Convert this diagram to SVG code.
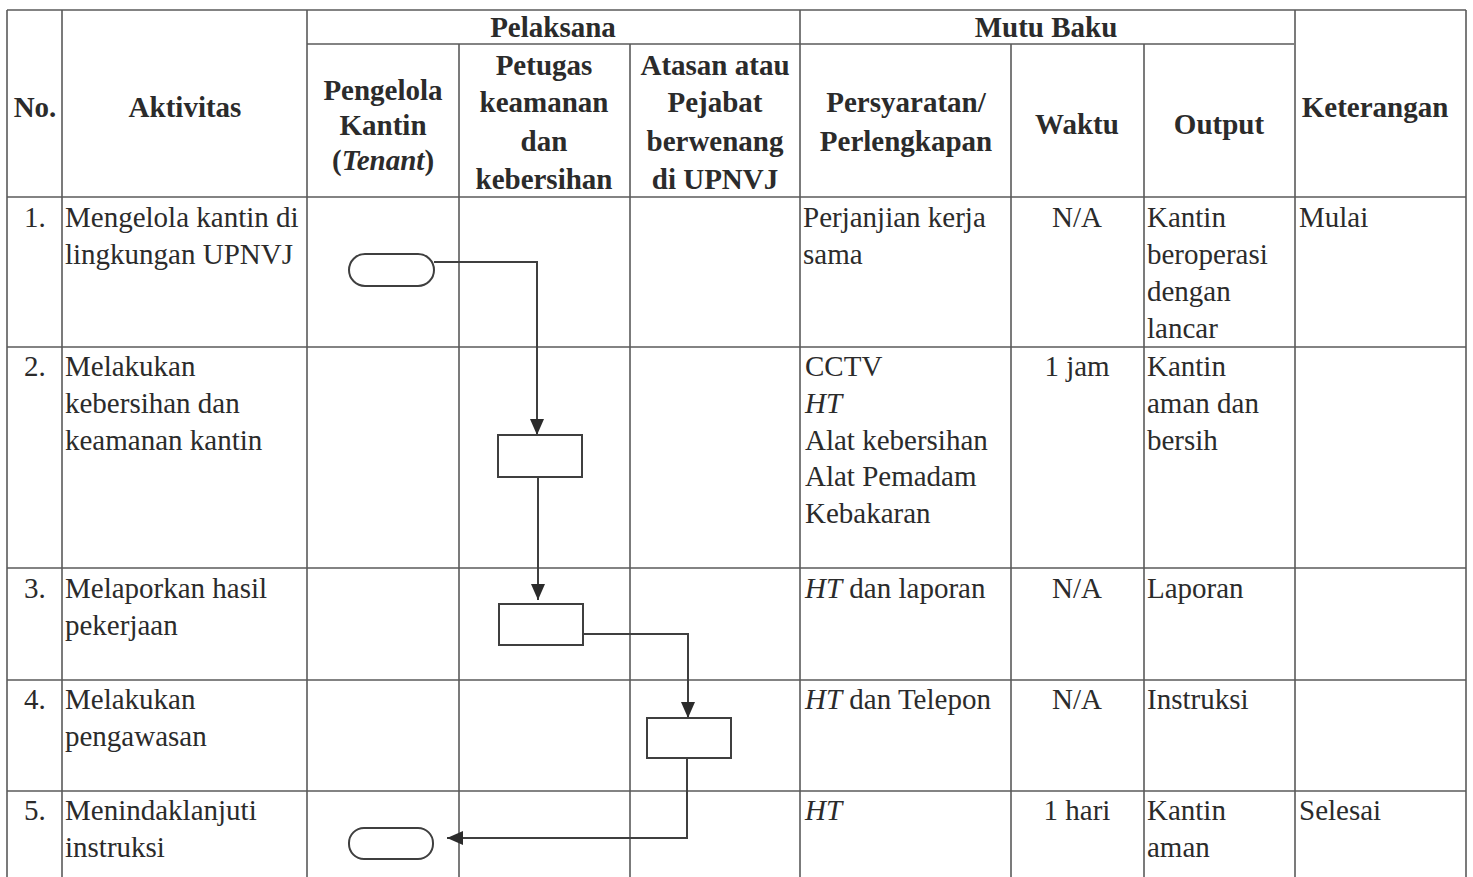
<svg xmlns="http://www.w3.org/2000/svg" width="1473" height="877" viewBox="0 0 1473 877">
<style>
.grid line{stroke:#5a5a5a;stroke-width:1.6}
text{font-family:"Liberation Serif","Times New Roman",serif;fill:#2b2b2b;font-size:29px}
.h{font-weight:bold;text-anchor:middle}
.c{text-anchor:middle}
.i{font-style:italic}
.node{fill:#fff;stroke:#3f3f3f;stroke-width:2}
.conn{fill:none;stroke:#3f3f3f;stroke-width:2}
</style>
<defs>
<marker id="arr" viewBox="0 0 16 14" refX="16" refY="7" markerWidth="16" markerHeight="14" markerUnits="userSpaceOnUse" orient="auto">
<path d="M0,0 L16,7 L0,14 Z" fill="#2b2b2b"/>
</marker>
</defs>
<rect width="1473" height="877" fill="#fff"/>
<g class="grid">
<line x1="7" y1="10" x2="1466" y2="10"/>
<line x1="307" y1="44" x2="1294" y2="44"/>
<line x1="7" y1="197" x2="1466" y2="197"/>
<line x1="7" y1="347" x2="1466" y2="347"/>
<line x1="7" y1="568" x2="1466" y2="568"/>
<line x1="7" y1="680" x2="1466" y2="680"/>
<line x1="7" y1="791" x2="1466" y2="791"/>
<line x1="7" y1="10" x2="7" y2="877"/>
<line x1="62" y1="10" x2="62" y2="877"/>
<line x1="307" y1="10" x2="307" y2="877"/>
<line x1="459" y1="44" x2="459" y2="877"/>
<line x1="630" y1="44" x2="630" y2="877"/>
<line x1="800" y1="10" x2="800" y2="877"/>
<line x1="1011" y1="44" x2="1011" y2="877"/>
<line x1="1144" y1="44" x2="1144" y2="877"/>
<line x1="1295" y1="10" x2="1295" y2="877"/>
<line x1="1466" y1="10" x2="1466" y2="877"/>
</g>
<g id="header">
<text class="h" x="553" y="37">Pelaksana</text>
<text class="h" x="1046" y="37">Mutu Baku</text>
<text class="h" x="35" y="117">No.</text>
<text class="h" x="185" y="117">Aktivitas</text>
<text class="h" x="383" y="100">Pengelola</text>
<text class="h" x="383" y="135">Kantin</text>
<text class="h" x="383" y="170">(<tspan class="i">Tenant</tspan>)</text>
<text class="h" x="544" y="75">Petugas</text>
<text class="h" x="544" y="112">keamanan</text>
<text class="h" x="544" y="151">dan</text>
<text class="h" x="544" y="189">kebersihan</text>
<text class="h" x="715" y="75">Atasan atau</text>
<text class="h" x="715" y="112">Pejabat</text>
<text class="h" x="715" y="151">berwenang</text>
<text class="h" x="715" y="189">di UPNVJ</text>
<text class="h" x="906" y="112">Persyaratan/</text>
<text class="h" x="906" y="151">Perlengkapan</text>
<text class="h" x="1077" y="134">Waktu</text>
<text class="h" x="1219" y="134">Output</text>
<text class="h" x="1375" y="117">Keterangan</text>
</g>
<g id="row1">
<text x="24" y="227">1.</text>
<text x="65" y="227">Mengelola kantin di</text>
<text x="65" y="264">lingkungan UPNVJ</text>
<text x="803" y="227">Perjanjian kerja</text>
<text x="803" y="264">sama</text>
<text class="c" x="1077" y="227">N/A</text>
<text x="1147" y="227">Kantin</text>
<text x="1147" y="264">beroperasi</text>
<text x="1147" y="301">dengan</text>
<text x="1147" y="338">lancar</text>
<text x="1299" y="227">Mulai</text>
</g>
<g id="row2">
<text x="24" y="376">2.</text>
<text x="65" y="376">Melakukan</text>
<text x="65" y="413">kebersihan dan</text>
<text x="65" y="450">keamanan kantin</text>
<text x="805" y="376">CCTV</text>
<text class="i" x="805" y="413">HT</text>
<text x="805" y="450">Alat kebersihan</text>
<text x="805" y="486">Alat Pemadam</text>
<text x="805" y="523">Kebakaran</text>
<text class="c" x="1077" y="376">1 jam</text>
<text x="1147" y="376">Kantin</text>
<text x="1147" y="413">aman dan</text>
<text x="1147" y="450">bersih</text>
</g>
<g id="row3">
<text x="24" y="598">3.</text>
<text x="65" y="598">Melaporkan hasil</text>
<text x="65" y="635">pekerjaan</text>
<text x="805" y="598"><tspan class="i">HT</tspan> dan laporan</text>
<text class="c" x="1077" y="598">N/A</text>
<text x="1147" y="598">Laporan</text>
</g>
<g id="row4">
<text x="24" y="709">4.</text>
<text x="65" y="709">Melakukan</text>
<text x="65" y="746">pengawasan</text>
<text x="805" y="709"><tspan class="i">HT</tspan> dan Telepon</text>
<text class="c" x="1077" y="709">N/A</text>
<text x="1147" y="709">Instruksi</text>
</g>
<g id="row5">
<text x="24" y="820" fill="#777">5.</text>
<text x="65" y="820">Menindaklanjuti</text>
<text x="65" y="857">instruksi</text>
<text class="i" x="805" y="820">HT</text>
<text class="c" x="1077" y="820">1 hari</text>
<text x="1147" y="820">Kantin</text>
<text x="1147" y="857">aman</text>
<text x="1299" y="820">Selesai</text>
</g>
<g id="connectors">
<path class="conn" d="M434,262 H537 V435" marker-end="url(#arr)"/>
<path class="conn" d="M538,477 V600" marker-end="url(#arr)"/>
<path class="conn" d="M583,634 H688 V718" marker-end="url(#arr)"/>
<path class="conn" d="M687,758 V838 H447" marker-end="url(#arr)"/>
</g>
<g id="node-start"><rect class="node" x="349" y="254" width="85" height="32" rx="16"/></g>
<g id="node-step2"><rect class="node" x="498" y="435" width="84" height="42"/></g>
<g id="node-step3"><rect class="node" x="499" y="604" width="84" height="41"/></g>
<g id="node-step4"><rect class="node" x="647" y="718" width="84" height="40"/></g>
<g id="node-end"><rect class="node" x="349" y="828" width="84" height="31" rx="15"/></g>
</svg>
